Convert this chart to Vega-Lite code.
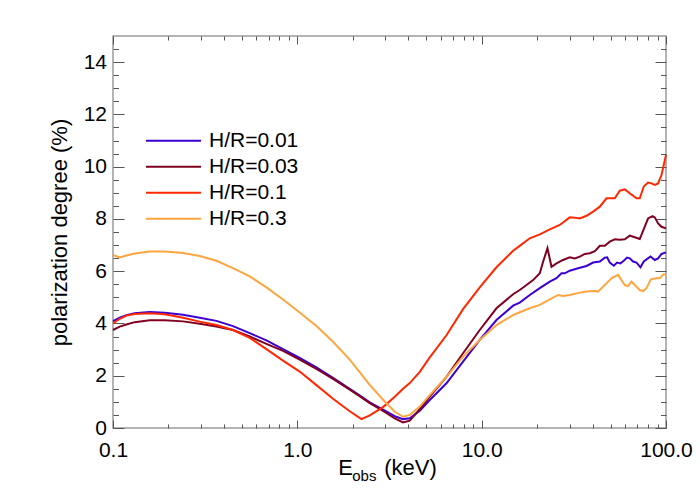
{
"$schema":"https://vega.github.io/schema/vega-lite/v6.json",
"width":553,"height":392,"autosize":"none",
"padding":{"left":113,"top":36,"right":34,"bottom":72},
"background":"white",
"config":{"font":"Liberation Sans","view":{"stroke":"#9a9a9a","strokeWidth":1.5},"axis":{"domain":false,"grid":false,"tickColor":"#555","tickWidth":1,"labelColor":"black","titleColor":"black","titleFontWeight":"normal","labelFlush":false,"labelOverlap":false}},
"data":{"values":[
{"E":0.1,"P":4.09,"s":"H/R=0.01"},{"E":0.1087,"P":4.22,"s":"H/R=0.01"},{"E":0.1182,"P":4.32,"s":"H/R=0.01"},{"E":0.1311,"P":4.39,"s":"H/R=0.01"},{"E":0.1582,"P":4.44,"s":"H/R=0.01"},{"E":0.1908,"P":4.41,"s":"H/R=0.01"},{"E":0.2398,"P":4.33,"s":"H/R=0.01"},{"E":0.2954,"P":4.22,"s":"H/R=0.01"},{"E":0.3639,"P":4.1,"s":"H/R=0.01"},{"E":0.4478,"P":3.9,"s":"H/R=0.01"},{"E":0.5516,"P":3.63,"s":"H/R=0.01"},{"E":0.6797,"P":3.35,"s":"H/R=0.01"},{"E":0.8364,"P":3.02,"s":"H/R=0.01"},{"E":1.03,"P":2.68,"s":"H/R=0.01"},{"E":1.269,"P":2.32,"s":"H/R=0.01"},{"E":1.562,"P":1.92,"s":"H/R=0.01"},{"E":1.924,"P":1.5,"s":"H/R=0.01"},{"E":2.227,"P":1.2,"s":"H/R=0.01"},{"E":2.471,"P":0.98,"s":"H/R=0.01"},{"E":2.917,"P":0.7,"s":"H/R=0.01"},{"E":3.377,"P":0.45,"s":"H/R=0.01"},{"E":3.746,"P":0.34,"s":"H/R=0.01"},{"E":4.073,"P":0.37,"s":"H/R=0.01"},{"E":4.615,"P":0.66,"s":"H/R=0.01"},{"E":5.23,"P":1.07,"s":"H/R=0.01"},{"E":6.442,"P":1.71,"s":"H/R=0.01"},{"E":7.925,"P":2.54,"s":"H/R=0.01"},{"E":9.765,"P":3.37,"s":"H/R=0.01"},{"E":12.03,"P":4.13,"s":"H/R=0.01"},{"E":14.81,"P":4.68,"s":"H/R=0.01"},{"E":16.09,"P":4.8,"s":"H/R=0.01"},{"E":18.24,"P":5.09,"s":"H/R=0.01"},{"E":20.67,"P":5.35,"s":"H/R=0.01"},{"E":23.42,"P":5.6,"s":"H/R=0.01"},{"E":25.46,"P":5.73,"s":"H/R=0.01"},{"E":27.1,"P":5.92,"s":"H/R=0.01"},{"E":28.24,"P":5.92,"s":"H/R=0.01"},{"E":30.06,"P":6.02,"s":"H/R=0.01"},{"E":33.35,"P":6.11,"s":"H/R=0.01"},{"E":37.04,"P":6.2,"s":"H/R=0.01"},{"E":40.23,"P":6.33,"s":"H/R=0.01"},{"E":43.75,"P":6.37,"s":"H/R=0.01"},{"E":46.56,"P":6.52,"s":"H/R=0.01"},{"E":47.92,"P":6.53,"s":"H/R=0.01"},{"E":49.55,"P":6.33,"s":"H/R=0.01"},{"E":52.1,"P":6.21,"s":"H/R=0.01"},{"E":54.29,"P":6.33,"s":"H/R=0.01"},{"E":56.64,"P":6.3,"s":"H/R=0.01"},{"E":59.0,"P":6.4,"s":"H/R=0.01"},{"E":61.5,"P":6.52,"s":"H/R=0.01"},{"E":63.6,"P":6.49,"s":"H/R=0.01"},{"E":66.28,"P":6.37,"s":"H/R=0.01"},{"E":69.16,"P":6.33,"s":"H/R=0.01"},{"E":72.7,"P":6.15,"s":"H/R=0.01"},{"E":75.76,"P":6.37,"s":"H/R=0.01"},{"E":82.38,"P":6.56,"s":"H/R=0.01"},{"E":86.93,"P":6.43,"s":"H/R=0.01"},{"E":90.6,"P":6.49,"s":"H/R=0.01"},{"E":94.54,"P":6.66,"s":"H/R=0.01"},{"E":100,"P":6.72,"s":"H/R=0.01"},
{"E":0.1,"P":3.75,"s":"H/R=0.03"},{"E":0.1087,"P":3.88,"s":"H/R=0.03"},{"E":0.1182,"P":3.96,"s":"H/R=0.03"},{"E":0.1311,"P":4.05,"s":"H/R=0.03"},{"E":0.1582,"P":4.12,"s":"H/R=0.03"},{"E":0.1908,"P":4.12,"s":"H/R=0.03"},{"E":0.2398,"P":4.08,"s":"H/R=0.03"},{"E":0.2954,"P":3.99,"s":"H/R=0.03"},{"E":0.3639,"P":3.88,"s":"H/R=0.03"},{"E":0.4478,"P":3.75,"s":"H/R=0.03"},{"E":0.5516,"P":3.5,"s":"H/R=0.03"},{"E":0.6797,"P":3.22,"s":"H/R=0.03"},{"E":0.8364,"P":2.95,"s":"H/R=0.03"},{"E":1.03,"P":2.62,"s":"H/R=0.03"},{"E":1.269,"P":2.26,"s":"H/R=0.03"},{"E":1.562,"P":1.88,"s":"H/R=0.03"},{"E":1.924,"P":1.47,"s":"H/R=0.03"},{"E":2.227,"P":1.17,"s":"H/R=0.03"},{"E":2.471,"P":0.95,"s":"H/R=0.03"},{"E":2.917,"P":0.65,"s":"H/R=0.03"},{"E":3.377,"P":0.37,"s":"H/R=0.03"},{"E":3.746,"P":0.21,"s":"H/R=0.03"},{"E":4.073,"P":0.28,"s":"H/R=0.03"},{"E":4.615,"P":0.72,"s":"H/R=0.03"},{"E":5.23,"P":1.2,"s":"H/R=0.03"},{"E":6.442,"P":1.96,"s":"H/R=0.03"},{"E":7.925,"P":2.86,"s":"H/R=0.03"},{"E":9.765,"P":3.75,"s":"H/R=0.03"},{"E":12.03,"P":4.58,"s":"H/R=0.03"},{"E":14.81,"P":5.12,"s":"H/R=0.03"},{"E":16.09,"P":5.28,"s":"H/R=0.03"},{"E":17.51,"P":5.47,"s":"H/R=0.03"},{"E":19.01,"P":5.66,"s":"H/R=0.03"},{"E":20.67,"P":5.92,"s":"H/R=0.03"},{"E":21.54,"P":6.36,"s":"H/R=0.03"},{"E":22.75,"P":6.88,"s":"H/R=0.03"},{"E":23.92,"P":6.17,"s":"H/R=0.03"},{"E":25.46,"P":6.3,"s":"H/R=0.03"},{"E":27.65,"P":6.43,"s":"H/R=0.03"},{"E":30.06,"P":6.53,"s":"H/R=0.03"},{"E":32.0,"P":6.49,"s":"H/R=0.03"},{"E":34.07,"P":6.56,"s":"H/R=0.03"},{"E":36.26,"P":6.66,"s":"H/R=0.03"},{"E":38.6,"P":6.69,"s":"H/R=0.03"},{"E":41.1,"P":6.77,"s":"H/R=0.03"},{"E":43.75,"P":6.97,"s":"H/R=0.03"},{"E":46.56,"P":6.97,"s":"H/R=0.03"},{"E":49.55,"P":7.13,"s":"H/R=0.03"},{"E":52.75,"P":7.22,"s":"H/R=0.03"},{"E":56.15,"P":7.2,"s":"H/R=0.03"},{"E":59.76,"P":7.22,"s":"H/R=0.03"},{"E":63.6,"P":7.36,"s":"H/R=0.03"},{"E":67.7,"P":7.3,"s":"H/R=0.03"},{"E":72.07,"P":7.23,"s":"H/R=0.03"},{"E":76.04,"P":7.64,"s":"H/R=0.03"},{"E":79.95,"P":8.02,"s":"H/R=0.03"},{"E":84.47,"P":8.11,"s":"H/R=0.03"},{"E":86.93,"P":8.06,"s":"H/R=0.03"},{"E":90.6,"P":7.83,"s":"H/R=0.03"},{"E":94.54,"P":7.7,"s":"H/R=0.03"},{"E":100,"P":7.64,"s":"H/R=0.03"},
{"E":0.1,"P":4.0,"s":"H/R=0.1"},{"E":0.1087,"P":4.18,"s":"H/R=0.1"},{"E":0.1182,"P":4.3,"s":"H/R=0.1"},{"E":0.1311,"P":4.36,"s":"H/R=0.1"},{"E":0.1582,"P":4.39,"s":"H/R=0.1"},{"E":0.1908,"P":4.35,"s":"H/R=0.1"},{"E":0.2398,"P":4.22,"s":"H/R=0.1"},{"E":0.2954,"P":4.07,"s":"H/R=0.1"},{"E":0.3639,"P":3.94,"s":"H/R=0.1"},{"E":0.4478,"P":3.75,"s":"H/R=0.1"},{"E":0.5516,"P":3.45,"s":"H/R=0.1"},{"E":0.6797,"P":3.02,"s":"H/R=0.1"},{"E":0.8364,"P":2.58,"s":"H/R=0.1"},{"E":1.03,"P":2.16,"s":"H/R=0.1"},{"E":1.269,"P":1.64,"s":"H/R=0.1"},{"E":1.562,"P":1.12,"s":"H/R=0.1"},{"E":1.924,"P":0.64,"s":"H/R=0.1"},{"E":2.227,"P":0.34,"s":"H/R=0.1"},{"E":2.471,"P":0.48,"s":"H/R=0.1"},{"E":2.917,"P":0.8,"s":"H/R=0.1"},{"E":3.377,"P":1.2,"s":"H/R=0.1"},{"E":3.746,"P":1.5,"s":"H/R=0.1"},{"E":4.073,"P":1.72,"s":"H/R=0.1"},{"E":4.615,"P":2.15,"s":"H/R=0.1"},{"E":5.23,"P":2.7,"s":"H/R=0.1"},{"E":6.442,"P":3.55,"s":"H/R=0.1"},{"E":7.925,"P":4.55,"s":"H/R=0.1"},{"E":9.765,"P":5.38,"s":"H/R=0.1"},{"E":12.03,"P":6.15,"s":"H/R=0.1"},{"E":14.81,"P":6.78,"s":"H/R=0.1"},{"E":16.09,"P":6.97,"s":"H/R=0.1"},{"E":18.24,"P":7.26,"s":"H/R=0.1"},{"E":20.67,"P":7.41,"s":"H/R=0.1"},{"E":23.42,"P":7.6,"s":"H/R=0.1"},{"E":26.53,"P":7.77,"s":"H/R=0.1"},{"E":30.06,"P":8.06,"s":"H/R=0.1"},{"E":32.0,"P":8.05,"s":"H/R=0.1"},{"E":34.07,"P":8.02,"s":"H/R=0.1"},{"E":37.04,"P":8.12,"s":"H/R=0.1"},{"E":40.23,"P":8.28,"s":"H/R=0.1"},{"E":43.75,"P":8.47,"s":"H/R=0.1"},{"E":47.56,"P":8.79,"s":"H/R=0.1"},{"E":52.75,"P":8.79,"s":"H/R=0.1"},{"E":56.15,"P":9.08,"s":"H/R=0.1"},{"E":59.76,"P":9.13,"s":"H/R=0.1"},{"E":63.6,"P":8.98,"s":"H/R=0.1"},{"E":69.16,"P":8.79,"s":"H/R=0.1"},{"E":72.07,"P":8.79,"s":"H/R=0.1"},{"E":75.76,"P":9.24,"s":"H/R=0.1"},{"E":79.95,"P":9.39,"s":"H/R=0.1"},{"E":83.41,"P":9.36,"s":"H/R=0.1"},{"E":86.93,"P":9.3,"s":"H/R=0.1"},{"E":90.6,"P":9.36,"s":"H/R=0.1"},{"E":94.54,"P":9.68,"s":"H/R=0.1"},{"E":97.29,"P":10.07,"s":"H/R=0.1"},{"E":100,"P":10.45,"s":"H/R=0.1"},
{"E":0.1,"P":6.62,"s":"H/R=0.3"},{"E":0.1087,"P":6.53,"s":"H/R=0.3"},{"E":0.1182,"P":6.6,"s":"H/R=0.3"},{"E":0.1311,"P":6.68,"s":"H/R=0.3"},{"E":0.1582,"P":6.75,"s":"H/R=0.3"},{"E":0.1908,"P":6.75,"s":"H/R=0.3"},{"E":0.2398,"P":6.7,"s":"H/R=0.3"},{"E":0.2954,"P":6.58,"s":"H/R=0.3"},{"E":0.3639,"P":6.4,"s":"H/R=0.3"},{"E":0.4478,"P":6.12,"s":"H/R=0.3"},{"E":0.5516,"P":5.8,"s":"H/R=0.3"},{"E":0.6797,"P":5.38,"s":"H/R=0.3"},{"E":0.8364,"P":4.92,"s":"H/R=0.3"},{"E":1.03,"P":4.42,"s":"H/R=0.3"},{"E":1.269,"P":3.9,"s":"H/R=0.3"},{"E":1.562,"P":3.3,"s":"H/R=0.3"},{"E":1.924,"P":2.62,"s":"H/R=0.3"},{"E":2.227,"P":2.05,"s":"H/R=0.3"},{"E":2.471,"P":1.65,"s":"H/R=0.3"},{"E":2.917,"P":1.08,"s":"H/R=0.3"},{"E":3.377,"P":0.62,"s":"H/R=0.3"},{"E":3.746,"P":0.43,"s":"H/R=0.3"},{"E":4.073,"P":0.5,"s":"H/R=0.3"},{"E":4.615,"P":0.82,"s":"H/R=0.3"},{"E":5.23,"P":1.26,"s":"H/R=0.3"},{"E":6.442,"P":1.96,"s":"H/R=0.3"},{"E":7.925,"P":2.73,"s":"H/R=0.3"},{"E":9.765,"P":3.37,"s":"H/R=0.3"},{"E":12.03,"P":3.94,"s":"H/R=0.3"},{"E":14.81,"P":4.32,"s":"H/R=0.3"},{"E":16.09,"P":4.43,"s":"H/R=0.3"},{"E":18.24,"P":4.58,"s":"H/R=0.3"},{"E":20.67,"P":4.71,"s":"H/R=0.3"},{"E":23.42,"P":4.92,"s":"H/R=0.3"},{"E":25.98,"P":5.09,"s":"H/R=0.3"},{"E":27.65,"P":5.05,"s":"H/R=0.3"},{"E":30.06,"P":5.09,"s":"H/R=0.3"},{"E":34.07,"P":5.18,"s":"H/R=0.3"},{"E":37.04,"P":5.22,"s":"H/R=0.3"},{"E":41.1,"P":5.24,"s":"H/R=0.3"},{"E":42.83,"P":5.22,"s":"H/R=0.3"},{"E":45.59,"P":5.41,"s":"H/R=0.3"},{"E":50.62,"P":5.73,"s":"H/R=0.3"},{"E":54.97,"P":5.86,"s":"H/R=0.3"},{"E":57.35,"P":5.66,"s":"H/R=0.3"},{"E":59.76,"P":5.47,"s":"H/R=0.3"},{"E":62.27,"P":5.43,"s":"H/R=0.3"},{"E":64.97,"P":5.6,"s":"H/R=0.3"},{"E":67.7,"P":5.47,"s":"H/R=0.3"},{"E":72.07,"P":5.28,"s":"H/R=0.3"},{"E":75.1,"P":5.24,"s":"H/R=0.3"},{"E":78.36,"P":5.35,"s":"H/R=0.3"},{"E":82.69,"P":5.69,"s":"H/R=0.3"},{"E":88.81,"P":5.73,"s":"H/R=0.3"},{"E":92.54,"P":5.73,"s":"H/R=0.3"},{"E":96.45,"P":5.86,"s":"H/R=0.3"},{"E":100,"P":5.9,"s":"H/R=0.3"}
]},
"layer":[
{"mark":{"type":"line","strokeWidth":2},
 "encoding":{
  "x":{"field":"E","type":"quantitative","scale":{"type":"log","domain":[0.1,100],"nice":false},
   "axis":{"orient":"bottom","values":[0.1,1,10,100],"format":".1f","tickSize":-8,"labelFontSize":21,"labelPadding":19,
    "title":"E","titleFontSize":22,"titleX":224.7,"titleY":46,"titleAlign":"left","titleBaseline":"alphabetic"}},
  "y":{"field":"P","type":"quantitative","scale":{"domain":[0,15],"nice":false,"zero":false},
   "axis":{"orient":"left","values":[0,2,4,6,8,10,12,14],"tickSize":-11,"labelFontSize":21,"labelPadding":17.5,
    "title":"polarization degree (%)","titleFontSize":22,"titleX":-47,"titleY":196,"titleAngle":-90,"titleAlign":"center","titleBaseline":"alphabetic"}},
  "color":{"field":"s","type":"nominal","scale":{"domain":["H/R=0.01","H/R=0.03","H/R=0.1","H/R=0.3"],"range":["#3c00d2","#800020","#ff2800","#ffa540"]},
   "legend":{"orient":"none","legendX":32,"legendY":92,"title":null,"labelFontSize":21,"labelColor":"black","symbolType":"stroke","symbolSize":3025,"symbolStrokeWidth":2,"labelOffset":7,"rowPadding":0,"clipHeight":25.7}}
 }},
{"mark":{"type":"point","opacity":0},
 "encoding":{
  "x":{"field":"E","type":"quantitative","scale":{"type":"log","domain":[0.1,100],"nice":false},
   "axis":{"orient":"bottom","values":[0.2,0.3,0.4,0.5,0.6,0.7,0.8,0.9,2,3,4,5,6,7,8,9,20,30,40,50,60,70,80,90],"tickSize":-4,"labels":false,
    "title":"(keV)","titleFontSize":22,"titleX":270.7,"titleY":46,"titleAlign":"left","titleBaseline":"alphabetic"}},
  "y":{"field":"P","type":"quantitative","scale":{"domain":[0,15],"nice":false,"zero":false},
   "axis":{"orient":"left","values":[0.5,1,1.5,2.5,3,3.5,4.5,5,5.5,6.5,7,7.5,8.5,9,9.5,10.5,11,11.5,12.5,13,13.5,14.5],"tickSize":-5.5,"labels":false,"title":null}}
 }},
{"mark":{"type":"point","opacity":0},
 "encoding":{
  "x":{"field":"E","type":"quantitative","scale":{"type":"log","domain":[0.1,100],"nice":false},
   "axis":{"orient":"top","values":[0.1,1,10,100],"tickSize":-8,"labels":false,
    "title":"obs","titleFontSize":15,"titleX":238.7,"titleY":444,"titleAlign":"left","titleBaseline":"alphabetic","titleAngle":0}},
  "y":{"field":"P","type":"quantitative","scale":{"domain":[0,15],"nice":false,"zero":false},
   "axis":{"orient":"right","values":[0,2,4,6,8,10,12,14],"tickSize":-11,"labels":false,"title":null}}
 }},
{"mark":{"type":"point","opacity":0},
 "encoding":{
  "x":{"field":"E","type":"quantitative","scale":{"type":"log","domain":[0.1,100],"nice":false},
   "axis":{"orient":"top","values":[0.2,0.3,0.4,0.5,0.6,0.7,0.8,0.9,2,3,4,5,6,7,8,9,20,30,40,50,60,70,80,90],"tickSize":-4,"labels":false,"title":null}},
  "y":{"field":"P","type":"quantitative","scale":{"domain":[0,15],"nice":false,"zero":false},
   "axis":{"orient":"right","values":[0.5,1,1.5,2.5,3,3.5,4.5,5,5.5,6.5,7,7.5,8.5,9,9.5,10.5,11,11.5,12.5,13,13.5,14.5],"tickSize":-5.5,"labels":false,"title":null}}
 }}
],
"resolve":{"axis":{"x":"independent","y":"independent"}}
}
